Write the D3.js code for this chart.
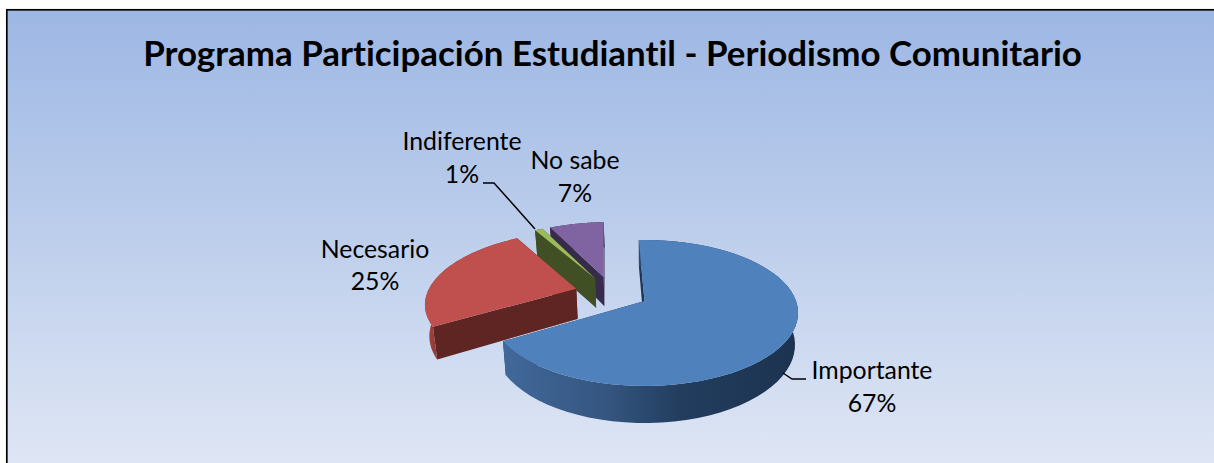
<!DOCTYPE html>
<html><head><meta charset="utf-8">
<script src="https://cdn.jsdelivr.net/npm/d3@7"></script>
<style>html,body{margin:0;padding:0;background:#fff}svg{display:block}text{font-family:Lato,"Open Sans",sans-serif;fill:#000;font-variant-ligatures:none}</style>
</head><body><div id="c"></div>
<script>
const categories = ["Importante","Necesario","Indiferente","No sabe"];
const values = [67,25,1,7];
const title = "Programa Participación Estudiantil - Periodismo Comunitario";
const topColors = ["#4F81BD","#C0504D","#9BBB59","#8064A2"];
const cutColors = ["#1F3654","#5F2523","#404F24","#372B4A"];
const W=1214,H=463;
const svg=d3.select("#c").append("svg").attr("width",W).attr("height",H);
const defs=svg.append("defs");
const bg=defs.append("linearGradient").attr("id","bg").attr("x1",0).attr("y1",0).attr("x2",0).attr("y2",1);
bg.append("stop").attr("offset",0).attr("stop-color","#9DB7E4");
bg.append("stop").attr("offset",0.5).attr("stop-color","#BECFEC");
bg.append("stop").attr("offset",1).attr("stop-color","#E0E7F5");
const wall=defs.append("linearGradient").attr("id","wall0").attr("gradientUnits","userSpaceOnUse").attr("x1",506).attr("y1",0).attr("x2",798).attr("y2",0);
[[0,"#41689A"],[0.35,"#34557F"],[0.6,"#223D5E"],[1,"#1C3350"]].forEach(s=>wall.append("stop").attr("offset",s[0]).attr("stop-color",s[1]));
const wall1=defs.append("linearGradient").attr("id","wall1").attr("gradientUnits","userSpaceOnUse").attr("x1",426).attr("y1",0).attr("x2",445).attr("y2",0);
[[0,"#A8453F"],[1,"#7A302D"]].forEach(s=>wall1.append("stop").attr("offset",s[0]).attr("stop-color",s[1]));
svg.append("rect").attr("x",6.8).attr("y",9.8).attr("width",W).attr("height",H).attr("fill","url(#bg)").attr("stroke","#000").attr("stroke-width",1.7);

// perspective projection of the pie plane
const ax=644.5, ay=301, R=151.5, A=71, B=0.164, DEPTH=31, EXPLODE=0.25;
const ROT=-2.5*Math.PI/180;
const center=[-EXPLODE*Math.sin(ROT+(67/100)*Math.PI),-EXPLODE*Math.cos(ROT+(67/100)*Math.PI)];
function proj(u,v,low){
  const s=1/(1+B*v);
  let x=ax+R*u*s, y=ay-A*v*s;
  if(low){ y+=DEPTH*s; x-=(x-ax)*0.02; }
  return [x,y];
}
const pie=d3.pie().sort(null).startAngle(ROT).endAngle(ROT+2*Math.PI)(values);
const line=d3.line();
const order=[3,2,1,0];
const gp=svg.append("g");
function arcPts(d,low){
  const m=(d.startAngle+d.endAngle)/2;
  const cu=center[0]+EXPLODE*Math.sin(m), cv=center[1]+EXPLODE*Math.cos(m);
  const angs=d3.range(0,61).map(i=>d.startAngle+(d.endAngle-d.startAngle)*i/60);
  return {apex:proj(cu,cv,low),arc:angs.map(a=>proj(cu+Math.sin(a),cv+Math.cos(a),low))};
}
order.forEach(i=>{
  const d=pie[i], T=arcPts(d,false), L=arcPts(d,true);
  const g=gp.append("g");
  const first=0,last=T.arc.length-1;
  [[T.arc[last],L.arc[last]],[T.arc[first],L.arc[first]]].forEach(e=>{
    g.append("path").attr("d",line([T.apex,e[0],e[1],L.apex])+"Z").attr("fill",cutColors[i]);
  });
  const outer=T.arc.concat(L.arc.slice().reverse());
  g.append("path").attr("d",line(outer)+"Z").attr("fill",i===0?"url(#wall0)":i===1?"url(#wall1)":cutColors[i]);
  g.append("path").attr("d",line([T.apex].concat(T.arc))+"Z").attr("fill",topColors[i]);
});

// title
svg.append("text").attr("x",612.5).attr("y",66).attr("text-anchor","middle").attr("font-size",34.9).attr("font-weight",700).text(title);
// labels
const labelPos=[[872,379,412],[375,258,290],[462,150,183],[575,169,202]];
categories.forEach((c,i)=>{
  const p=labelPos[i];
  const t=svg.append("text").attr("text-anchor","middle").attr("font-size",24.8);
  t.append("tspan").attr("x",p[0]).attr("y",p[1]).text(c);
  t.append("tspan").attr("x",p[0]).attr("y",p[2]).text(values[i]+"%");
});
// leader lines
const leaders=[[[483,183],[494,183],[535,229]],[[783,373],[792,379],[806,379]]];
leaders.forEach(l=>svg.append("path").attr("d",line(l)).attr("fill","none").attr("stroke","#000").attr("stroke-width",1.5));
</script></body></html>
